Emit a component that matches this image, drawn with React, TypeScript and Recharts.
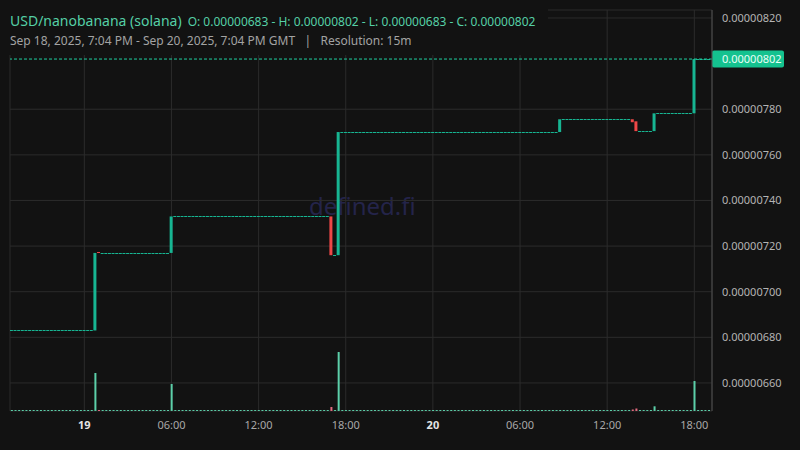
// 15m candle chart for USD/nanobanana on a dark theme: price candles on the
// right-hand axis, volume bars along the bottom, and a tag for the last price.
import { Bar, CartesianGrid, ComposedChart, ReferenceLine, XAxis, YAxis } from "recharts";

const BG = "#121212";
const UP = "#17b592";
const DOWN = "#ef4747";
const VOL_UP = "#5ccfa9";
const VOL_DOWN = "#e06a7e";
const GRID = "#2b2b2b";
const FONT = "'Noto Sans', 'Open Sans', sans-serif";

// 15-minute candles, Sep 18 19:00 -> Sep 20 19:00 GMT (index 0..192)
const candleCount = 193;
const firstPrice = 0.00000683;
// candles where the price moved; every other candle is a no-trade doji at the last close
const moveIndex = [23, 24, 44, 88, 90, 151, 171, 172, 177, 188];
const moveOpen = [
  0.00000683, 0.00000717, 0.00000717, 0.00000733, 0.00000716, 0.0000077, 0.000007756, 0.000007747,
  0.000007704, 0.000007782,
];
const moveClose = [
  0.00000717, 0.000007169, 0.00000733, 0.00000716, 0.0000077, 0.000007756, 0.000007743, 0.000007704,
  0.000007782, 0.00000802,
];
const moveVolume = [380, 0, 270, 40, 590, 0, 15, 25, 47, 300];

const priceTicks = [
  0.0000066, 0.0000068, 0.000007, 0.0000072, 0.0000074, 0.0000076, 0.0000078, 0.0000082,
];
const timeTicks = [20, 44, 68, 92, 116, 140, 164, 188];
const timeLabels = ["19", "06:00", "12:00", "18:00", "20", "06:00", "12:00", "18:00"];
const dayLabels = ["19", "20"];

interface Row {
  i: number;
  open: number;
  close: number;
  range: [number, number];
  volume: number;
}

function buildRows() {
  const rows: Row[] = [];
  let last = firstPrice;
  for (let i = 0; i < candleCount; i++) {
    const k = moveIndex.indexOf(i);
    const open = k >= 0 ? moveOpen[k] : last;
    const close = k >= 0 ? moveClose[k] : last;
    rows.push({
      i,
      open,
      close,
      range: [Math.min(open, close), Math.max(open, close)],
      volume: k >= 0 ? moveVolume[k] : 0,
    });
    last = close;
  }
  return rows;
}

const rows = buildRows();
const lastClose = rows[rows.length - 1].close;
const hi = Math.max(...rows.map((r) => r.range[1]));
const lo = Math.min(...rows.map((r) => r.range[0]));

function Candle(props: any) {
  let { x, y, width, height } = props;
  const p = props.payload as Row;
  if (height < 0) {
    y += height;
    height = -height;
  }
  const color = p.close < p.open ? DOWN : UP;
  // flat candles: a crisp 1px tick
  if (height < 1) return <rect x={x} y={Math.floor(y)} width={width} height={1} fill={color} />;
  return <rect x={x} y={y} width={width} height={height} fill={color} />;
}

function VolumeBar(props: any) {
  const { x, y, width, height } = props;
  const p = props.payload as Row;
  const color = p.close < p.open ? VOL_DOWN : VOL_UP;
  const h = Math.max(height, 1);
  return <rect x={x} y={y + height - h} width={width} height={h} fill={color} />;
}

function PriceTag(props: any) {
  const vb = props.viewBox;
  const x = vb.x + vb.width;
  const y = vb.y;
  return (
    <g>
      <rect x={x} y={y - 8.5} width={72} height={17} rx={2} fill="#14c28f" />
      <text x={x + 10} y={y + 4} fontSize={11} fontFamily={FONT} fill="#e9fff7">
        {lastClose.toFixed(8)}
      </text>
    </g>
  );
}

function TimeTick(props: any) {
  const { x, y, payload } = props;
  const label = timeLabels[timeTicks.indexOf(payload.value)];
  const bold = dayLabels.includes(label);
  return (
    <text
      x={x}
      y={y}
      dy={10}
      textAnchor="middle"
      fontSize={11}
      fontFamily={FONT}
      fontWeight={bold ? 700 : 400}
      fill={bold ? "#e4e4e4" : "#a8a8a8"}
    >
      {label}
    </text>
  );
}

function PriceTick(props: any) {
  const { x, y, payload } = props;
  return (
    <text x={x} y={y} dy={4} fontSize={11} fontFamily={FONT} fill="#b4b4b4">
      {Number(payload.value).toFixed(8)}
    </text>
  );
}

export default function App() {
  return (
    <div style={{ position: "absolute", left: 0, top: 0, width: 800, height: 450, background: BG, overflow: "hidden" }}>
      <div
        style={{
          position: "absolute",
          left: 309,
          top: 191,
          fontFamily: FONT,
          fontSize: 24,
          color: "#24244a",
          whiteSpace: "nowrap",
          lineHeight: "30px",
        }}
      >
        defined.fi
      </div>
      <div style={{ position: "absolute", left: 0, top: 0 }}>
        <ComposedChart width={800} height={450} data={rows} margin={{ top: 10, right: 0, bottom: 0, left: 10 }}>
          <XAxis
            xAxisId="p"
            type="number"
            dataKey="i"
            domain={[-0.47, 192.87]}
            allowDataOverflow
            ticks={timeTicks}
            tick={<TimeTick />}
            axisLine={false}
            tickLine={false}
            height={39}
          />
          <XAxis xAxisId="v" type="number" dataKey="i" domain={[-0.47, 192.87]} allowDataOverflow hide />
          <YAxis
            yAxisId="p"
            orientation="right"
            width={88}
            domain={[0.000006477, 0.000008235]}
            allowDataOverflow
            ticks={priceTicks}
            tick={<PriceTick />}
            tickLine={false}
            tickMargin={4}
            axisLine={{ stroke: "#4e4e4e" }}
          />
          <YAxis yAxisId="v" hide domain={[0, 4010]} allowDataOverflow />
          <CartesianGrid xAxisId="p" yAxisId="p" stroke={GRID} />
          <Bar
            xAxisId="v"
            yAxisId="v"
            dataKey="volume"
            barSize={2}
            shape={<VolumeBar />}
            isAnimationActive={false}
          />
          <Bar xAxisId="p" yAxisId="p" dataKey="range" barSize={3} shape={<Candle />} isAnimationActive={false} />
          <ReferenceLine
            xAxisId="p"
            yAxisId="p"
            y={lastClose}
            stroke="#1fd1a0"
            strokeDasharray="3 2"
            label={<PriceTag />}
          />
        </ComposedChart>
      </div>
      <div
        style={{
          position: "absolute",
          left: 0,
          top: 0,
          width: 548,
          height: 55,
          background: BG,
          fontFamily: FONT,
          whiteSpace: "nowrap",
        }}
      >
        <div style={{ position: "absolute", left: 10, top: 10, lineHeight: "20px", color: "#55cfa6" }}>
          <span style={{ fontSize: 14 }}>USD/nanobanana (solana)</span>
          <span style={{ fontSize: 12, marginLeft: 6 }}>
            {`O: ${firstPrice.toFixed(8)} - H: ${hi.toFixed(8)} - L: ${lo.toFixed(8)} - C: ${lastClose.toFixed(8)}`}
          </span>
        </div>
        <div style={{ position: "absolute", left: 10, top: 33, lineHeight: "16px", fontSize: 12, color: "#a3a3a3" }}>
          Sep 18, 2025, 7:04 PM - Sep 20, 2025, 7:04 PM GMT&nbsp;&nbsp;&nbsp;|&nbsp;&nbsp;&nbsp;Resolution: 15m
        </div>
      </div>
    </div>
  );
}
